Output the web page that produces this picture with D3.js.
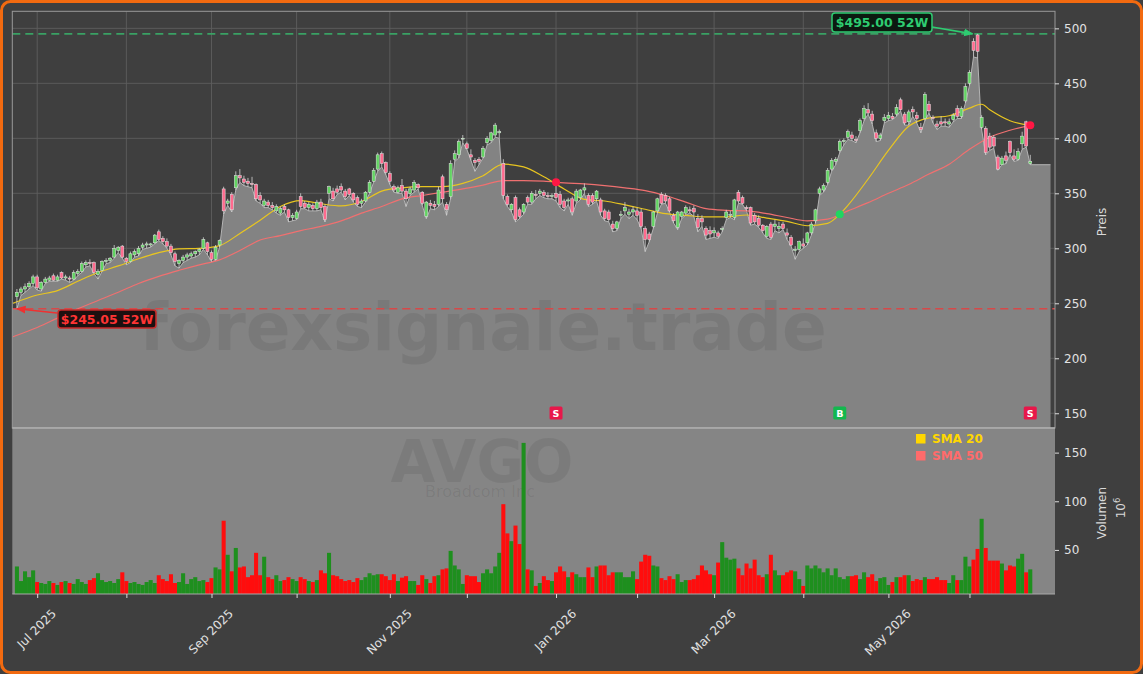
<!DOCTYPE html>
<html><head><meta charset="utf-8">
<script src="https://cdn.jsdelivr.net/npm/d3@7"></script>
<style>html,body{margin:0;padding:0;background:#3f3f3f;} svg{display:block;font-family:"DejaVu Sans",sans-serif;}</style>
</head><body><svg id="c" width="1143" height="674"></svg>
<script>
// ---------------- DATA ----------------
const startDate = "2025-06-24";
const holidays = ["2025-07-04","2025-09-01","2025-11-27","2025-12-25","2026-01-01","2026-01-19","2026-02-16","2026-04-03","2026-05-25","2026-06-19"];

const openP = [
256,260,263,265,268,274,263,269,271,275,
271,278,273,273,272,277,279,285,287,287,
276,280,288,289,292,298,302,291,288,294,
295,301,303,303,305,315,309,306,302,295,
286,289,292,293,295,297,300,305,296,290,
303,354,341,349,355,366,363,361,359,358,
348,339,342,339,334,332,338,335,328,327,
347,341,337,339,336,342,338,350,352,354,
356,352,354,350,346,341,343,351,361,372,
386,378,368,356,351,357,352,350,353,358,
351,329,341,340,340,365,340,347,381,385,
400,395,385,380,381,383,396,398,403,405,
377,347,335,346,335,333,346,342,349,350,
351,348,347,350,349,343,343,345,343,346,
353,348,348,345,344,334,333,322,318,330,
334,331,333,334,333,318,313,320,334,349,
348,345,330,319,329,332,335,336,327,327,
318,316,314,314,317,328,330,328,351,346,
337,337,330,327,321,311,322,320,318,322,
314,310,298,299,304,305,314,325,350,353,
360,372,379,389,397,401,403,399,407,418,
426,422,405,400,416,418,420,422,435,422,
415,426,421,410,418,431,419,413,415,415,
413,417,427,420,434,450,488,494,410,409,
402,401,383,376,384,397,384,381,395,415,
377];
const highP = [
263,265,268,270,276,276,270,274,275,277,
276,279,276,275,280,281,288,289,290,288,
281,289,291,292,303,302,303,292,297,299,
302,305,306,305,313,317,311,309,304,297,
290,294,296,297,298,300,310,306,298,303,
308,356,345,351,370,372,366,364,365,359,
351,345,344,342,340,338,340,336,332,335,
350,343,342,341,344,345,340,357,355,357,
359,354,355,351,348,345,352,362,373,387,
388,379,370,358,357,363,354,356,362,359,
352,343,344,343,356,367,342,380,389,399,
403,397,390,382,383,393,402,406,414,408,
381,349,341,348,337,341,348,352,353,354,
353,351,350,359,352,345,346,347,354,354,
359,350,350,353,346,336,335,325,325,334,
342,336,338,337,336,320,315,334,346,351,
350,347,332,334,334,339,338,339,331,330,
320,320,319,316,320,335,334,345,353,348,
339,338,332,330,322,321,324,326,324,324,
318,312,302,307,309,315,324,336,356,359,
373,382,383,399,400,408,406,402,418,430,
432,425,408,405,422,424,423,431,437,424,
426,429,424,414,442,434,421,416,420,418,
418,423,430,429,450,462,491,495,421,411,
405,403,385,384,388,398,390,391,406,416,
385];
const lowP = [
245.05,257,260,263,266,262,261,268,270,270,
270,272,271,269,271,275,278,283,284,277,
272,279,286,287,291,296,291,285,287,292,
293,299,300,301,304,307,304,300,294,284,
282,287,289,291,292,294,299,294,288,289,
301,331,339,333,353,360,357,356,355,343,
341,337,337,335,332,330,333,324,325,326,
336,336,334,334,334,335,324,345,343,349,
351,344,348,342,338,337,342,350,360,370,
374,367,358,351,350,350,338,348,351,354,
339,327,336,335,338,342,330,345,379,382,
396,390,380,370,376,382,394,396,401,400,
345,338,333,324,327,331,340,340,345,348,
346,345,345,343,337,334,340,330,341,344,
350,338,340,343,330,325,324,315,316,327,
331,327,330,326,318,297,306,318,332,340,
341,333,323,317,327,330,332,329,315,320,
308,309,310,309,315,326,328,326,341,340,
334,321,322,319,314,309,308,316,314,317,
308,302,290,297,300,303,312,323,348,351,
358,370,376,387,394,399,398,396,405,416,
422,413,397,398,414,416,417,420,425,412,
412,420,414,405,416,423,414,408,411,411,
410,415,418,418,432,448,474,473,408,385,
389,391,371,376,377,385,379,380,390,392,
376];
const closeP = [
260,263,265,268,274,264,269,272,273,271,
274,273,274,272,278,279,286,287,286,278,
279,288,289,291,300,301,292,288,295,297,
300,303,304,304,312,308,306,302,296,288,
289,292,294,295,297,299,308,297,290,301,
307,334,343,335,366,364,360,359,358,345,
344,343,339,337,338,336,335,328,330,333,
338,337,340,336,342,337,326,356,345,351,
353,347,349,344,340,343,351,360,371,385,
377,369,361,353,355,352,345,354,360,355,
341,342,339,338,353,345,335,377,386,397,
400,391,383,378,379,391,400,405,412,406,
348,340,340,326,329,340,342,350,348,352,
348,347,348,346,340,337,344,333,352,353,
355,340,342,352,333,327,326,318,324,331,
337,333,335,330,320,308,308,333,345,341,
343,334,325,333,333,337,334,333,319,324,
312,313,316,311,318,333,331,344,343,341,
336,323,324,321,316,320,310,322,320,318,
312,303,299,306,302,314,322,335,354,357,
371,380,381,397,398,406,400,398,416,427,
423,416,400,403,419,421,418,428,426,414,
424,424,418,408,440,425,418,411,413,414,
415,421,420,427,447,460,480,479,419,387,
392,393,372,382,380,387,381,388,402,393,
379];
// volume in millions
const volume = [
33,18,28,22,29,17,16,15,18,16,
14,17,18,16,15,20,17,15,19,21,
26,19,17,18,16,20,27,18,16,17,
15,14,17,19,16,24,20,18,25,16,
17,26,15,20,22,18,19,17,21,32,
30,80,45,28,52,32,33,22,24,47,
24,43,22,20,24,18,19,22,20,18,
22,20,18,17,19,29,26,47,24,23,
20,18,19,17,21,19,22,26,24,25,
25,23,19,25,18,21.5,23,18,18,14,
24,20,16,23,24,30,31,49,34,30,
15,24,23,23,17,26,30,26,33,47,
97,67,59,75,56,160,30,29,13,16,
23,19,18,27,33,28,22,27,25,22,
22,32,22,33,34,34,24,27,27,27,
22,22,28,20,38,45,44,34,33,21,
19,23,20,25,17,19,19,20,24,34,
29,25,24,37,58,42,40,41,31,24,
36,31,40,24,22,25,45,29,24,24,
27,29,28,20,13,34,31,34,31,27,
31,24,31,22,20,23,23,24,20,27,
22,25,18,21,22,14,17,22,22,24,
24,18,20,19,22,20,20,22,19,19,
16,24,19,19,43,33,40,51,82,52,
39,39,39,36,29,34,33,41,46,27,
30];
// moving averages (bar index, value)
const sma20Idx = [-1,5,10,15,20,25,30,35,40,45,50,55,60,65,70,75,80,85,90,95,100,105,110,115,120,125,130,135,140,145,150,155,160,165,170,175,180,185,190,195,200,203,205,210,215,220,225,230,235,238,240,245,250];
const sma20 = [250,257.5,261.5,270,278,284,290.5,296,299.5,300,302.5,313.5,325.5,338,343.3,340.5,338.5,342.5,352,355,356,356,359,366,376.5,374,365,354,344.5,343,339.5,335.5,331.5,330,328.5,328.5,330.3,327.5,324.5,320.5,322.7,331,339,363,389,411,418.5,420.5,427.5,431,426,416,411.8];
const sma50Idx = [-1,5,10,15,20,25,30,35,40,45,50,55,60,65,70,75,80,85,90,95,100,105,110,115,120,125,130,135,140,145,150,155,160,165,170,175,180,185,190,195,200,205,210,215,220,225,230,235,240,245,250];
const sma50 = [219.6,228,236.5,245,252.5,260,268,274.5,280,285,289.5,298,307.5,311.5,316,320,325,332,338,345,348,351,354,357.5,361.5,361.5,361,359.5,358.5,357,355,352.5,348,342,336,334.5,334,331.5,328,325,326.5,334,341.5,350,358,367.5,376.5,390,401,407.3,411.8];
// crossover signals
const signalIdx = [133, 203, 250];
const signalType = ["S", "B", "S"];
const signalPrice = [360, 331, 411.8];
// 52-week extremes
const high52 = 495.00, high52Idx = 237;
const low52 = 245.05, low52Idx = 0;
const priceTicks = [150,200,250,300,350,400,450,500];
const volTicks = [50,100,150];
const ticker = "AVGO", company = "Broadcom Inc";

// ---------------- LAYOUT ----------------
const W = 1143, H = 674;
const L = 12.3, R = 1055, PT = 11.3, PB = 428, VT = 428, VB = 594;
const N = closeP.length;

function tradingDays(start, n, hol) {
  const out = []; const hs = new Set(hol);
  const d = new Date(start + "T12:00:00Z");
  while (out.length < n) {
    const wd = d.getUTCDay(); const s = d.toISOString().slice(0, 10);
    if (wd !== 0 && wd !== 6 && !hs.has(s)) out.push(s);
    d.setUTCDate(d.getUTCDate() + 1);
  }
  return out;
}
const dates = tradingDays(startDate, N, holidays);
const monthIdx = [];
for (let i = 1; i < N; i++) if (dates[i].slice(0, 7) !== dates[i - 1].slice(0, 7)) monthIdx.push(i);

const x = d3.scaleLinear().domain([-1.14, 256.1]).range([L, R]);
const yP = d3.scaleLinear().domain([136.6, 515.5]).range([PB, PT]);
const yV = d3.scaleLinear().domain([4.7, 175.3]).range([VB, VT]);

const svg = d3.select("#c");
svg.append("rect").attr("x", 1.5).attr("y", 1.5).attr("width", W - 3).attr("height", H - 3)
  .attr("rx", 9).attr("fill", "#3f3f3f").attr("stroke", "#f26a10").attr("stroke-width", 3);

const defs = svg.append("defs");
defs.append("clipPath").attr("id", "cp").append("rect").attr("x", L).attr("y", PT).attr("width", R - L).attr("height", PB - PT);
defs.append("clipPath").attr("id", "cv").append("rect").attr("x", L).attr("y", VT).attr("width", R - L).attr("height", VB - VT);
function arrowMarker(id, color) {
  defs.append("marker").attr("id", id).attr("viewBox", "0 0 10 10").attr("refX", 9).attr("refY", 5)
    .attr("markerWidth", 6).attr("markerHeight", 6).attr("orient", "auto-start-reverse")
    .append("path").attr("d", "M0,1 L10,5 L0,9 z").attr("fill", color);
}
arrowMarker("ag", "#2ecc71"); arrowMarker("ar", "#f03030");

// ---------------- PRICE PANEL ----------------
const gp = svg.append("g").attr("clip-path", "url(#cp)");
gp.selectAll("line.vg").data(monthIdx).join("line").attr("class", "vg")
  .attr("x1", d => x(d)).attr("x2", d => x(d)).attr("y1", PT).attr("y2", PB)
  .attr("stroke", "#5d5d5d").attr("stroke-width", 0.9);
gp.selectAll("line.hg").data(priceTicks).join("line").attr("class", "hg")
  .attr("x1", L).attr("x2", R).attr("y1", d => yP(d)).attr("y2", d => yP(d))
  .attr("stroke", "#5d5d5d").attr("stroke-width", 0.9);

const areaPts = [{ i: -1.2, v: lowP[0] }].concat(lowP.map((v, i) => ({ i, v }))).concat([{ i: N + 4, v: lowP[N - 1] }]);
gp.append("path").datum(areaPts).attr("fill", "#838383")
  .attr("d", d3.area().x(d => x(d.i)).y0(PB).y1(d => yP(d.v)));
gp.append("path").datum(areaPts).attr("fill", "none").attr("stroke", "#b4b4b4").attr("stroke-width", 1)
  .attr("d", d3.line().x(d => x(d.i)).y(d => yP(d.v)));

gp.append("text").attr("x", 483).attr("y", 350).attr("text-anchor", "middle")
  .attr("font-size", 66).attr("font-weight", "bold").attr("fill", "#000").attr("fill-opacity", 0.075)
  .text("forexsignale.trade");

// dashed 52W lines
gp.append("line").attr("x1", L).attr("x2", R).attr("y1", yP(high52)).attr("y2", yP(high52))
  .attr("stroke", "#3aa164").attr("stroke-width", 1.6).attr("stroke-dasharray", "8,5");
gp.append("line").attr("x1", L).attr("x2", R).attr("y1", yP(low52)).attr("y2", yP(low52))
  .attr("stroke", "#d84848").attr("stroke-width", 1.6).attr("stroke-dasharray", "8,5");

// SMA lines
const smaLine = d3.line().x(d => x(d[0])).y(d => yP(d[1])).curve(d3.curveMonotoneX);
gp.append("path").datum(sma50Idx.map((d, k) => [d, sma50[k]])).attr("fill", "none")
  .attr("stroke", "#f07070").attr("stroke-width", 1.2).attr("d", smaLine);
gp.append("path").datum(sma20Idx.map((d, k) => [d, sma20[k]])).attr("fill", "none")
  .attr("stroke", "#e8c520").attr("stroke-width", 1.2).attr("d", smaLine);

// candles
const idx = d3.range(N);
gp.selectAll("line.wick").data(idx).join("line").attr("class", "wick")
  .attr("x1", i => x(i)).attr("x2", i => x(i)).attr("y1", i => yP(highP[i])).attr("y2", i => yP(lowP[i]))
  .attr("stroke", "#d4d4d4").attr("stroke-width", 0.8);
gp.selectAll("rect.body").data(idx).join("rect").attr("class", "body")
  .attr("x", i => x(i) - 1.5).attr("width", 3)
  .attr("y", i => yP(Math.max(openP[i], closeP[i])))
  .attr("height", i => Math.max(0.8, Math.abs(yP(openP[i]) - yP(closeP[i]))))
  .attr("fill", i => closeP[i] >= openP[i] ? "#62d462" : "#ff6a8e")
  .attr("stroke", "#e6e6e6").attr("stroke-width", 0.5);

// crossover dots
gp.selectAll("circle.sig").data(signalIdx).join("circle").attr("class", "sig")
  .attr("cx", i => x(i)).attr("cy", (i, k) => yP(signalPrice[k])).attr("r", 4)
  .attr("fill", (i, k) => signalType[k] === "B" ? "#1ed760" : "#ff1744");
// signal boxes
const sg = gp.selectAll("g.sb").data(signalIdx).join("g").attr("class", "sb")
  .attr("transform", i => `translate(${x(i)},${PB - 15})`);
sg.append("rect").attr("x", -6.5).attr("y", -6.5).attr("width", 13).attr("height", 13).attr("rx", 1.5)
  .attr("fill", (i, k) => signalType[k] === "B" ? "#13b84e" : "#e8174a");
sg.append("text").attr("text-anchor", "middle").attr("y", 3.5).attr("font-size", 9.5).attr("font-weight", "bold")
  .attr("fill", "#fff").text((i, k) => signalType[k]);

// 52W labels
const hx = 832, hy = 13;
svg.append("line").attr("x1", hx + 100).attr("y1", hy + 14).attr("x2", x(high52Idx) - 5).attr("y2", yP(high52))
  .attr("stroke", "#2ecc71").attr("stroke-width", 1.6).attr("marker-end", "url(#ag)");
svg.append("rect").attr("x", hx).attr("y", hy).attr("width", 100).attr("height", 19).attr("rx", 3)
  .attr("fill", "#0c1a10").attr("stroke", "#2ecc71").attr("stroke-width", 1.5);
svg.append("text").attr("x", hx + 50).attr("y", hy + 14).attr("text-anchor", "middle").attr("font-size", 12.5)
  .attr("font-weight", "bold").attr("fill", "#2ecc71").text(`$${high52.toFixed(2)} 52W`);
const lx = 58, ly = 310;
svg.append("line").attr("x1", lx - 1).attr("y1", ly + 3).attr("x2", x(low52Idx)).attr("y2", yP(low52))
  .attr("stroke", "#f03030").attr("stroke-width", 1.6).attr("marker-end", "url(#ar)");
svg.append("rect").attr("x", lx).attr("y", ly).attr("width", 98).attr("height", 18).attr("rx", 3)
  .attr("fill", "#1c1010").attr("stroke", "#c82828").attr("stroke-width", 1.5);
svg.append("text").attr("x", lx + 49).attr("y", ly + 13.5).attr("text-anchor", "middle").attr("font-size", 12.5)
  .attr("font-weight", "bold").attr("fill", "#ff3434").text(`$${low52.toFixed(2)} 52W`);

svg.append("rect").attr("x", L).attr("y", PT).attr("width", R - L).attr("height", PB - PT)
  .attr("fill", "none").attr("stroke", "#9a9a9a").attr("stroke-width", 1);

// ---------------- VOLUME PANEL ----------------
svg.append("rect").attr("x", L).attr("y", VT).attr("width", R - L).attr("height", VB - VT).attr("fill", "#858585");
const gv = svg.append("g").attr("clip-path", "url(#cv)");
gv.append("text").attr("x", 482).attr("y", 482).attr("text-anchor", "middle").attr("font-size", 58)
  .attr("font-weight", "bold").attr("fill", "#000").attr("fill-opacity", 0.07).text(ticker);
gv.append("text").attr("x", 480).attr("y", 497).attr("text-anchor", "middle").attr("font-size", 16)
  .attr("fill", "#000").attr("fill-opacity", 0.07).text(company);
const bw = x(1) - x(0);
gv.selectAll("rect.vol").data(idx).join("rect").attr("class", "vol")
  .attr("x", i => x(i) - bw / 2).attr("width", bw)
  .attr("y", i => yV(volume[i])).attr("height", i => yV(0) - yV(volume[i]))
  .attr("fill", i => closeP[i] >= openP[i] ? "#1e8f1e" : "#ff0d0d");
svg.append("line").attr("x1", L).attr("x2", R).attr("y1", VT).attr("y2", VT).attr("stroke", "#b0b0b0").attr("stroke-width", 1.5);
svg.append("line").attr("x1", L).attr("x2", R).attr("y1", VB).attr("y2", VB).attr("stroke", "#a8a8a8").attr("stroke-width", 1);

// legend
const legend = [["SMA 20", "#FFD700"], ["SMA 50", "#FF6B6B"]];
legend.forEach((d, k) => {
  svg.append("rect").attr("x", 916).attr("y", 434 + k * 17).attr("width", 9.5).attr("height", 9.5).attr("fill", d[1]);
  svg.append("text").attr("x", 932).attr("y", 443 + k * 17).attr("font-size", 12).attr("font-weight", "bold")
    .attr("fill", d[1]).text(d[0]);
});

// ---------------- AXES ----------------
function styleAxis(g) {
  g.select(".domain").remove();
  g.selectAll(".tick line").attr("stroke", "#dcdcdc");
  g.selectAll(".tick text").attr("fill", "#e2e2e2").attr("font-size", 12).attr("font-family", "DejaVu Sans");
}
svg.append("g").attr("transform", `translate(${R},0)`)
  .call(d3.axisRight(yP).tickValues(priceTicks).tickSize(4).tickPadding(5)).call(styleAxis);
svg.append("g").attr("transform", `translate(${R},0)`)
  .call(d3.axisRight(yV).tickValues(volTicks).tickSize(4).tickPadding(5)).call(styleAxis);

const fmt = d3.timeFormat("%b %Y");
const xa = svg.append("g").attr("transform", `translate(0,${VB})`)
  .call(d3.axisBottom(x).tickValues(monthIdx).tickSize(4)
    .tickFormat(i => { const dt = new Date(dates[i] + "T12:00:00"); return dt.getMonth() % 2 === 0 ? fmt(dt) : ""; }))
  .call(styleAxis);
xa.selectAll(".tick text").each(function () {
  const t = d3.select(this);
  const w = this.getComputedTextLength();
  const half = (w + 10) * 0.7071 / 2;
  t.attr("y", 0).attr("dy", 0).attr("x", 0).attr("text-anchor", "middle").attr("dominant-baseline", "central")
    .attr("transform", `translate(-1,${14 + half}) rotate(-45)`);
});

svg.append("text").attr("transform", "translate(1106,222) rotate(-90)").attr("text-anchor", "middle")
  .attr("font-size", 12).attr("fill", "#d8d8d8").text("Preis");
svg.append("text").attr("transform", "translate(1106,513) rotate(-90)").attr("text-anchor", "middle")
  .attr("font-size", 12).attr("fill", "#d8d8d8").text("Volumen");
const ex = svg.append("text").attr("transform", "translate(1125,508) rotate(-90)").attr("text-anchor", "middle")
  .attr("font-size", 12).attr("fill", "#d8d8d8");
ex.append("tspan").text("10");
ex.append("tspan").attr("dy", -5).attr("font-size", 8.5).text("6");
</script></body></html>
